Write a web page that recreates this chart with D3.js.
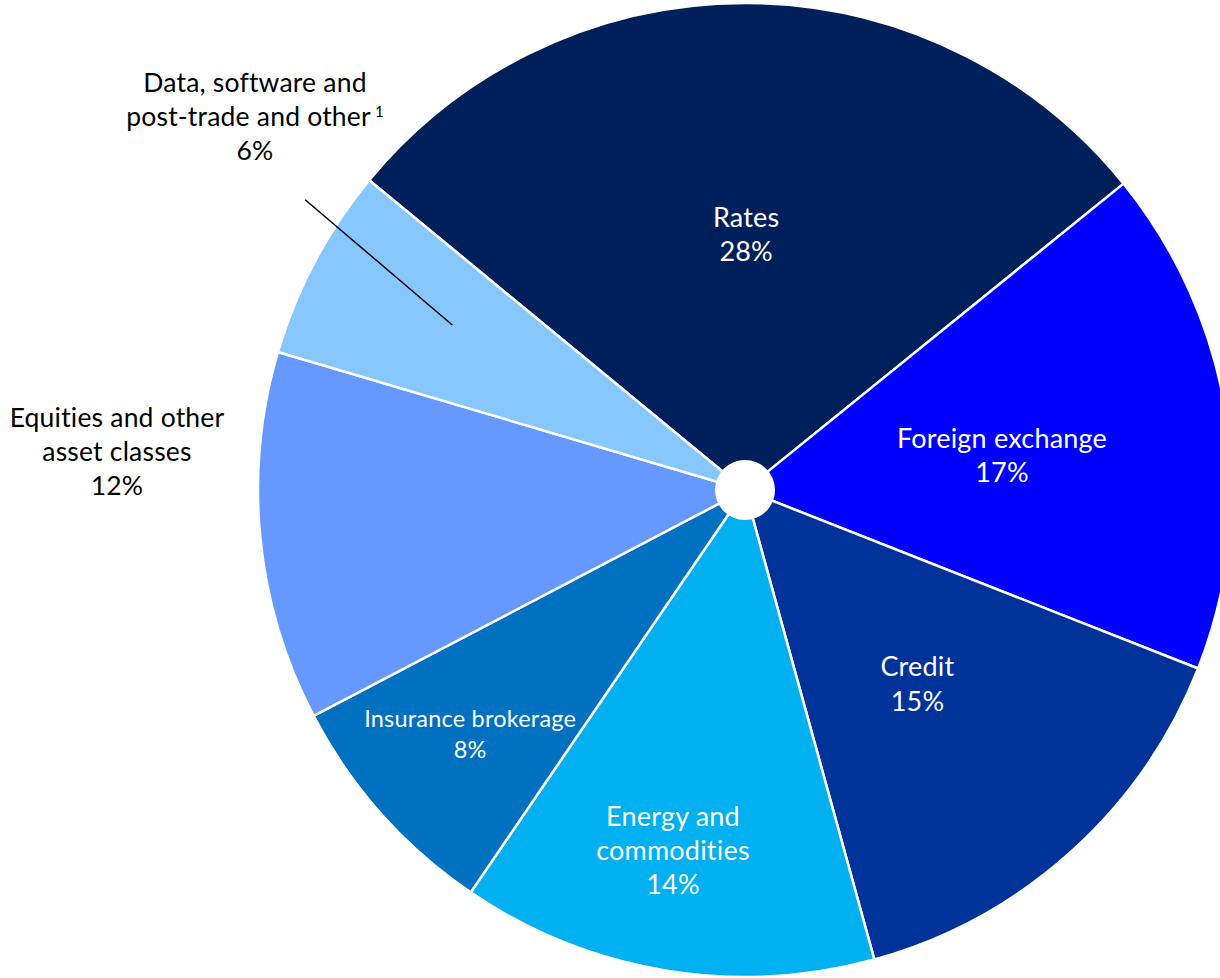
<!DOCTYPE html>
<html><head><meta charset="utf-8">
<script src="https://cdn.jsdelivr.net/npm/d3@7"></script>
<style>html,body{margin:0;padding:0;background:#fff;}svg{display:block;}text{font-variant-ligatures:none;font-feature-settings:"liga" 0,"clig" 0,"calt" 0,"dlig" 0;letter-spacing:0.2px;}</style>
</head><body>
<svg id="c" width="1220" height="978"></svg>
<script>
const categories = ["Rates","Foreign exchange","Credit","Energy and commodities","Insurance brokerage","Equities and other asset classes","Data, software and post-trade and other"];
const values = [28.2,16.8,14.75,13.8,7.8,12.25,6.4];
const colors = ["#00205C","#0000FF","#003399","#00B0F0","#0070C0","#6699FF","#87C7FF"];
const labelLines = [["Rates"],["Foreign exchange"],["Credit"],["Energy and","commodities"],["Insurance brokerage"],["Equities and other","asset classes"],["Data, software and","post-trade and other"]];

const W=1220,H=978, cx=745, cy=490, R=487, holeR=30;
const startDeg=-50.5;
const svg=d3.select("#c");
const g=svg.append("g").attr("transform",`translate(${cx},${cy})`);
const pie=d3.pie().sort(null).value(d=>d).startAngle(startDeg*Math.PI/180).endAngle((startDeg+360)*Math.PI/180);
const arcs=pie(values);
const arc=d3.arc().innerRadius(0).outerRadius(R);
g.selectAll("path.s").data(arcs).join("path").attr("class","s")
 .attr("d",arc).attr("fill",(d,i)=>colors[i]).attr("stroke","#fff").attr("stroke-width",2.5).attr("stroke-linejoin","round");
g.append("circle").attr("r",holeR).attr("fill","#fff");

const font="'Gill Sans','Gill Sans MT',Lato,'Open Sans',sans-serif";
const lab=[
 {r:255,fs:27,fill:"#fff",dx:0,dy:0,lh:34},
 {r:260,fs:27,fill:"#fff",dx:0,dy:5,lh:34},
 {r:258,fs:27,fill:"#fff",dx:0,dy:2,lh:35},
 {r:366,fs:27,fill:"#fff",dx:-12,dy:0,lh:34},
 {r:368,fs:23.5,fill:"#fff",dx:0,dy:0,lh:31},
 {r:628,fs:26.5,fill:"#000",dx:-3,dy:-99,lh:34},
 {r:0,fs:26.5,fill:"#000",lh:34}
];
function pos(d,r){const a=(d.startAngle+d.endAngle)/2;return [Math.sin(a)*r,-Math.cos(a)*r];}
arcs.forEach((d,i)=>{
  let p;
  if(i===6){ p=[255-cx,117-cy]; }
  else { p=pos(d,lab[i].r); p=[p[0]+lab[i].dx,p[1]+lab[i].dy]; }
  const lines=labelLines[i].concat([Math.round(values[i])+"%"]);
  const lh=lab[i].lh;
  const t=g.append("text").attr("font-family",font).attr("font-size",lab[i].fs).attr("fill",lab[i].fill).attr("text-anchor","middle")
    .style("font-variant-ligatures","none").style("letter-spacing","0.2px");
  lines.forEach((ln,k)=>{
    const ts=t.append("tspan").attr("x",p[0]).attr("y",p[1]+(k-(lines.length-1)/2)*lh).attr("dy","0.35em").text(ln);
    if(i===6&&k===1){ts.append("tspan").attr("font-size",15).attr("dy","-0.6em").text(" 1");}
  });
});
const dA=(arcs[6].startAngle+arcs[6].endAngle)/2;
const pIn=[Math.sin(dA+0.025)*336,-Math.cos(dA+0.025)*336];
const pOut=[Math.sin(dA+0.095)*527,-Math.cos(dA+0.095)*527];
g.append("line").attr("x1",pOut[0]).attr("y1",pOut[1]).attr("x2",pIn[0]).attr("y2",pIn[1]).attr("stroke","#000").attr("stroke-width",1.5);
</script>
</body></html>
